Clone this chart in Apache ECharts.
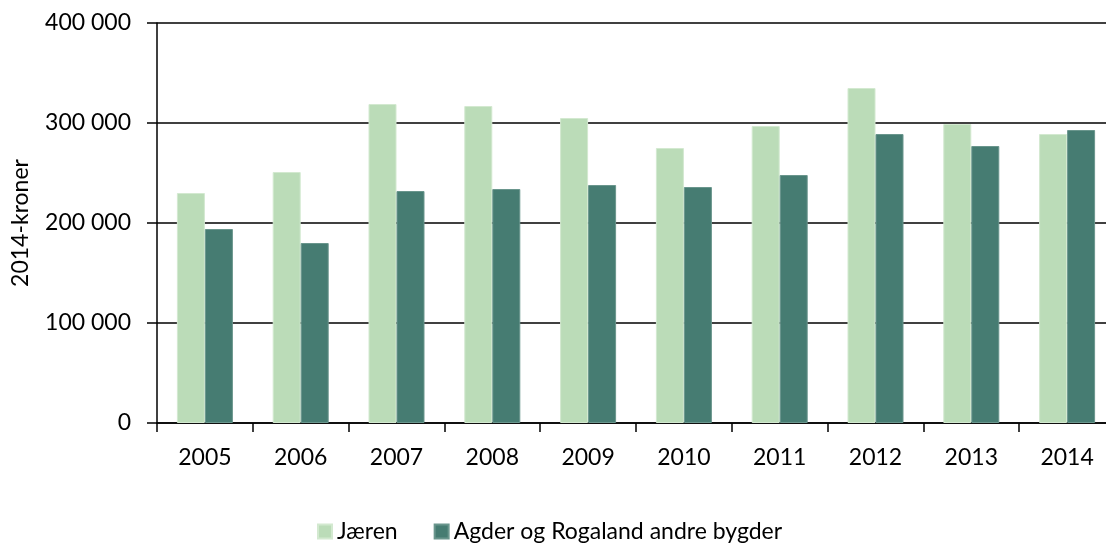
<!DOCTYPE html>
<html>
<head>
<meta charset="utf-8">
<script src="https://cdn.jsdelivr.net/npm/echarts@6/dist/echarts.min.js"></script>
<style>html,body{margin:0;padding:0;background:#fff}#c{width:1106px;height:545px}</style>
</head>
<body>
<div id="c"></div>
<script>
const categories = ['2005','2006','2007','2008','2009','2010','2011','2012','2013','2014'];
const jaeren = [230000, 251000, 319000, 317000, 305000, 275000, 297000, 335000, 299000, 289000];
const agder = [194000, 180000, 232000, 234000, 238000, 236000, 248000, 289000, 277000, 293000];
const yTicks = [0, 100000, 200000, 300000, 400000];
const seriesNames = ['Jæren', 'Agder og Rogaland andre bygder'];

const FONT = 'Lato';
function fmt(v){ return v === 0 ? '0' : String(v).replace(/\B(?=(\d{3})+(?!\d))/g, '\u00a0'); }

const chart = echarts.init(document.getElementById('c'), null, {renderer:'canvas'});
chart.setOption({
  animation: false,
  textStyle: {fontFamily: FONT},
  grid: {left: 157, width: 958, top: 23, bottom: 122, containLabel: false, outerBoundsMode: 'none'},
  legend: {
    left: 312, top: 515,
    itemWidth: 14, itemHeight: 14, itemGap: 36,
    icon: 'rect',
    textStyle: {fontFamily: FONT, fontSize: 23, color: '#000'},
    data: seriesNames
  },
  xAxis: {
    type: 'category',
    data: categories,
    axisLine: {lineStyle: {color: '#000', width: 1.5}},
    axisTick: {show: true, length: 9, inside: false, lineStyle: {color: '#000', width: 1.5}},
    axisLabel: {fontFamily: FONT, fontSize: 23, color: '#000', margin: 23}
  },
  yAxis: {
    type: 'value',
    min: yTicks[0], max: yTicks[yTicks.length-1], interval: 100000,
    name: '2014-kroner',
    nameLocation: 'middle',
    nameRotate: 90,
    nameGap: 125,
    nameTextStyle: {fontFamily: FONT, fontSize: 23, color: '#000'},
    axisLine: {show: true, lineStyle: {color: '#000', width: 1.5}},
    axisTick: {show: true, length: 10, inside: false, lineStyle: {color: '#000', width: 1.5}},
    axisLabel: {fontFamily: FONT, fontSize: 23, color: '#000', margin: 26, formatter: fmt},
    splitLine: {show: true, lineStyle: {color: '#000', width: 1.5}}
  },
  series: [
    {
      name: seriesNames[0], type: 'bar', data: jaeren,
      barWidth: 28, barGap: '0%',
      itemStyle: {color: '#BBDCB8', borderColor: '#D3E9D0', borderWidth: 1}
    },
    {
      name: seriesNames[1], type: 'bar', data: agder,
      barWidth: 28, barGap: '0%',
      itemStyle: {color: '#467C72', borderColor: '#6A968D', borderWidth: 1}
    }
  ]
});
</script>
</body>
</html>
